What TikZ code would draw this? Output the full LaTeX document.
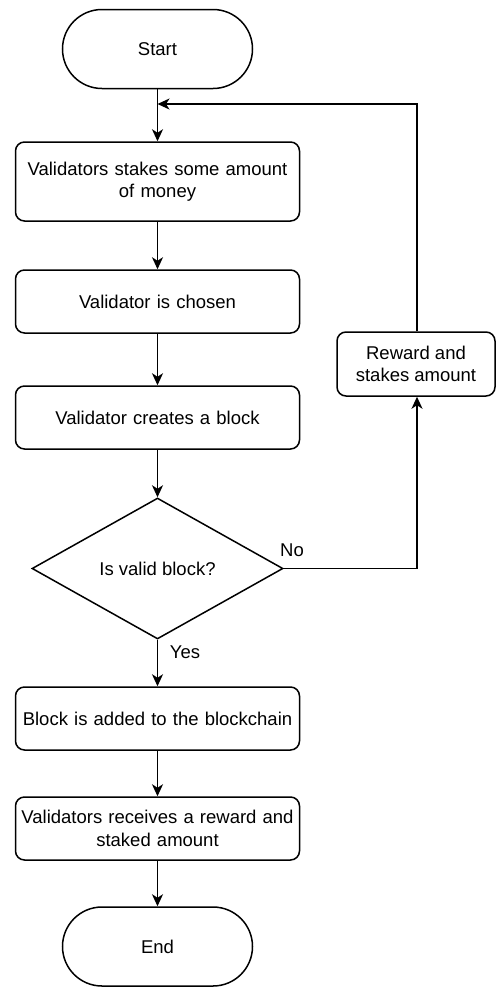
\documentclass[tikz,border=0pt]{standalone}
\usepackage{fontspec}
\setmainfont{Liberation Sans}
\usetikzlibrary{shapes.geometric,arrows.meta}
\begin{document}
\begin{tikzpicture}[x=1pt,y=-1pt,
  font=\fontsize{18.5}{22.5}\selectfont,
  every node/.style={text=black},
  base/.style={draw=black,line width=1.5pt,fill=white,align=center,inner sep=0pt},
  terminal/.style={base,rectangle,rounded corners=39.5pt,minimum width=190pt,minimum height=79pt},
  process/.style={base,rectangle,rounded corners=9pt,minimum width=284pt,text width=280pt},
  decision/.style={base,diamond,minimum width=251pt,minimum height=141pt,aspect=1.78},
  flow/.style={draw=black,line width=1.5pt,-{Stealth[length=12pt,width=11pt,inset=3.5pt]}},
  lbl/.style={inner sep=0pt}]
\useasboundingbox (0,0) rectangle (496,988);

\node[terminal] (start) at (157.5,49) {Start};
\node[process,minimum height=79pt] (stake) at (157.5,181.5) {Validators stakes some amount\\of money};
\node[process,minimum height=63pt] (chosen) at (157.5,301.5) {Validator is chosen};
\node[process,minimum height=63pt] (create) at (157.5,417.5) {Validator creates a block};
\node[decision] (valid) at (157.5,568.5) {Is valid block?};
\node[base,rectangle,rounded corners=9pt,minimum width=158pt,minimum height=64pt] (reward) at (416,364) {Reward and\\stakes amount};
\node[process,minimum height=63pt] (added) at (157.5,718.5) {Block is added to the blockchain};
\node[process,minimum height=63pt] (receive) at (157.5,828.5) {Validators receives a reward and\\staked amount};
\node[terminal] (end) at (157.5,946.5) {End};

% loop junction above the first step
\coordinate (join) at (157.5,104);
\coordinate (topright) at (417,104);
\coordinate (lowright) at (417,568.5);

\draw[flow] (start) -- (stake);
\draw[flow] (reward.north -| topright) -- (topright) -- (join);
\draw[flow] (stake) -- (chosen);
\draw[flow] (chosen) -- (create);
\draw[flow] (create) -- (valid);
\draw[flow] (valid.east) -- (lowright) -- (reward.south -| lowright);
\draw[flow] (valid) -- (added);
\draw[flow] (added) -- (receive);
\draw[flow] (receive) -- (end);

\node[lbl] (no) at (292,550) {No};
\node[lbl] (yes) at (185,652) {Yes};
\end{tikzpicture}
\end{document}
